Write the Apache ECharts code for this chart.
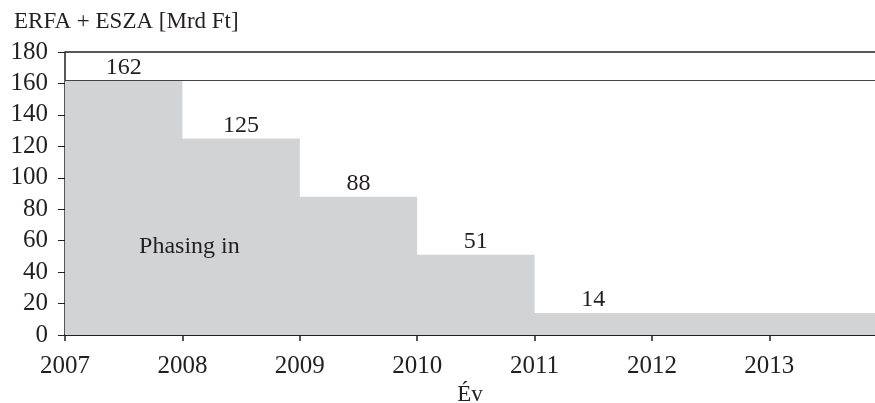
<!DOCTYPE html>
<html>
<head>
<meta charset="utf-8">
<script src="https://cdn.jsdelivr.net/npm/echarts@6/dist/echarts.min.js"></script>
<style>
  html, body { margin: 0; padding: 0; background: #fff; }
  #chart { width: 875px; height: 403px; }
</style>
</head>
<body>
<div id="chart"></div>
<script>
// lépcsők: év kezdete -> érték
const stepYears = [2007, 2008, 2009, 2010, 2011, 2013.9]
const stepValues = [162, 125, 88, 51, 14, 14]
// címkék a lépcsők közepén
const labelYears = [2007.5, 2008.5, 2009.5, 2010.5, 2011.5]
const labelValues = [162, 125, 88, 51, 14]
const yTicks = [0, 20, 40, 60, 80, 100, 120, 140, 160, 180]

const font = '"Liberation Serif", "DejaVu Serif", serif'
const ink = '#231f20'
const fill = '#d1d3d4'

const chart = echarts.init(document.getElementById('chart'))

chart.setOption({
  animation: false,
  textStyle: { fontFamily: font, color: ink },
  title: {
    text: 'ERFA + ESZA [Mrd Ft]',
    left: 9,
    top: 5,
    textStyle: { fontFamily: font, fontSize: 23, fontWeight: 'normal', color: ink }
  },
  grid: { left: 65, right: 0, top: 52, bottom: 68, outerBoundsMode: 'none', containLabel: false },
  xAxis: {
    type: 'value',
    min: 2007,
    max: 2013.9,
    interval: 1,
    name: 'Év',
    nameLocation: 'middle',
    nameGap: 37,
    nameTextStyle: { fontFamily: font, fontSize: 23, color: ink },
    axisLine: { lineStyle: { color: ink, width: 2 } },
    axisTick: { length: 6, lineStyle: { color: ink, width: 1.5 } },
    axisLabel: {
      margin: 19,
      fontSize: 25,
      color: ink,
      fontFamily: font,
      showMaxLabel: false,
      formatter: v => String(v)
    },
    splitLine: { show: false }
  },
  yAxis: {
    type: 'value',
    min: yTicks[0],
    max: yTicks[yTicks.length - 1],
    interval: 20,
    axisLine: { show: true, lineStyle: { color: ink, width: 1.5 } },
    axisTick: { show: true, length: 7, lineStyle: { color: ink, width: 1 } },
    axisLabel: { margin: 17, fontSize: 25, color: ink, fontFamily: font },
    splitLine: { show: false }
  },
  series: [
    {
      type: 'line',
      step: 'end',
      symbol: 'none',
      data: stepYears.map((y, i) => [y, stepValues[i]]),
      lineStyle: { width: 0 },
      areaStyle: { color: fill, opacity: 1 },
      markLine: {
        symbol: 'none',
        silent: true,
        label: { show: false },
        data: [
          { yAxis: 180, lineStyle: { color: ink, width: 1.5, type: 'solid' } },
          { yAxis: 162, lineStyle: { color: '#444', width: 1.2, type: 'solid' } }
        ]
      },
      z: 1
    },
    {
      type: 'scatter',
      symbolSize: 0,
      itemStyle: { opacity: 1 },
      data: labelYears.map((y, i) => [y, labelValues[i]]),
      label: {
        show: true,
        position: 'top',
        distance: 1,
        fontSize: 24,
        fontFamily: font,
        color: ink,
        opacity: 1,
        formatter: p => String(p.value[1])
      },
      z: 3
    },
    {
      type: 'scatter',
      symbolSize: 0,
      itemStyle: { opacity: 1 },
      data: [[2008.06, 56]],
      label: {
        show: true,
        position: 'inside',
        fontSize: 24,
        fontFamily: font,
        color: ink,
        opacity: 1,
        formatter: 'Phasing in'
      },
      z: 3
    }
  ]
})
</script>
</body>
</html>
